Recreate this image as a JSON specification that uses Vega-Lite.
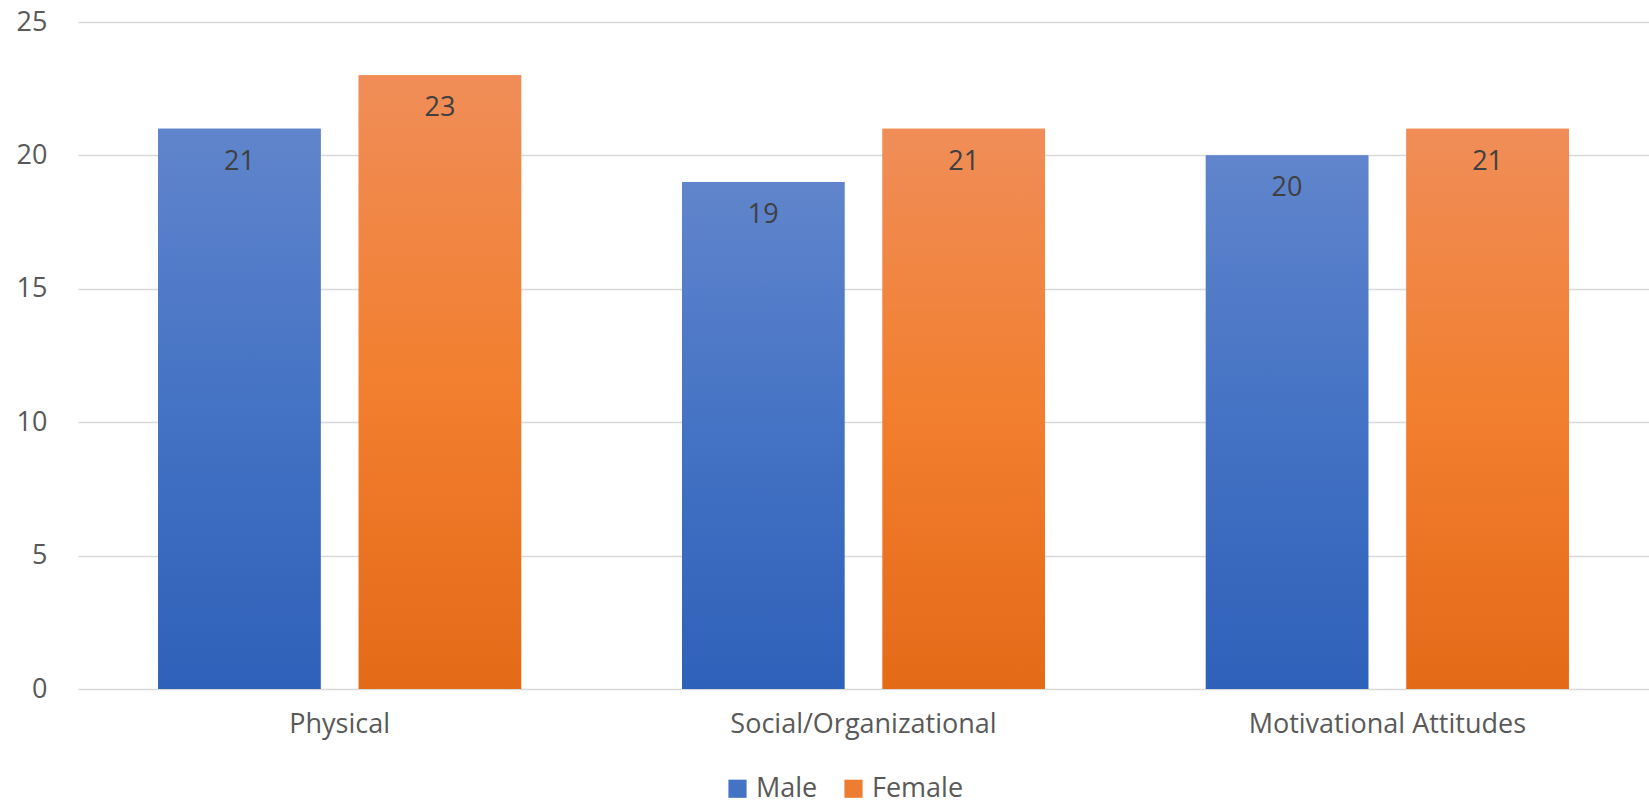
{
  "$schema": "https://vega.github.io/schema/vega-lite/v6.json",
  "width": 1571,
  "height": 667,
  "autosize": {"type": "none"},
  "padding": {"left": 78, "top": 22, "right": 0, "bottom": 119},
  "background": "white",
  "config": {
    "view": {"stroke": null},
    "font": "Open Sans",
    "axis": {"labelFont": "Open Sans", "labelColor": "#595959", "labelFontSize": 27},
    "legend": {"labelFont": "Open Sans", "labelColor": "#595959", "labelFontSize": 27}
  },
  "data": {
    "values": [
      {"category": "Physical", "sex": "Male", "value": 21},
      {"category": "Physical", "sex": "Female", "value": 23},
      {"category": "Social/Organizational", "sex": "Male", "value": 19},
      {"category": "Social/Organizational", "sex": "Female", "value": 21},
      {"category": "Motivational Attitudes", "sex": "Male", "value": 20},
      {"category": "Motivational Attitudes", "sex": "Female", "value": 21}
    ]
  },
  "encoding": {
    "x": {
      "field": "category", "type": "nominal",
      "sort": ["Physical", "Social/Organizational", "Motivational Attitudes"],
      "scale": {"paddingInner": 0.307, "paddingOuter": 0.153},
      "axis": {"title": null, "labelAngle": 0, "domain": false, "ticks": false, "labelPadding": 22, "grid": false, "labelLimit": 0}
    },
    "xOffset": {
      "field": "sex", "type": "nominal",
      "scale": {"domain": ["Male", "Female"], "paddingInner": 0.19, "paddingOuter": 0}
    },
    "y": {
      "field": "value", "type": "quantitative",
      "scale": {"domain": [0, 25]},
      "axis": {"title": null, "values": [0, 5, 10, 15, 20, 25], "domain": false, "ticks": false, "labelPadding": 31, "grid": true, "gridColor": "#d9d9d9", "gridWidth": 1.5}
    }
  },
  "layer": [
    {
      "mark": {"type": "bar"},
      "encoding": {
        "color": {
          "field": "sex", "type": "nominal",
          "scale": {"domain": ["Male", "Female"], "range": ["#4472c4", "#ed7d31"]},
          "legend": {"title": null, "orient": "none", "direction": "horizontal", "legendX": 646, "legendY": 753, "symbolType": "square", "symbolSize": 330, "symbolStrokeWidth": 0, "columnPadding": 22, "labelOffset": 5}
        }
      }
    },
    {
      "transform": [{"filter": "datum.sex === 'Male'"}],
      "mark": {"type": "bar", "color": {"gradient": "linear", "x1": 0, "y1": 0, "x2": 0, "y2": 1, "stops": [{"offset": 0, "color": "#6085cc"}, {"offset": 0.5, "color": "#4472c4"}, {"offset": 1, "color": "#2e61b9"}]}},
      "encoding": {}
    },
    {
      "transform": [{"filter": "datum.sex === 'Female'"}],
      "mark": {"type": "bar", "color": {"gradient": "linear", "x1": 0, "y1": 0, "x2": 0, "y2": 1, "stops": [{"offset": 0, "color": "#f08d58"}, {"offset": 0.5, "color": "#f27f2f"}, {"offset": 1, "color": "#e46a17"}]}},
      "encoding": {}
    },
    {
      "mark": {"type": "text", "baseline": "top", "dy": 20, "fontSize": 27, "color": "#404040", "font": "Open Sans"},
      "encoding": {"text": {"field": "value", "type": "quantitative"}}
    }
  ]
}
